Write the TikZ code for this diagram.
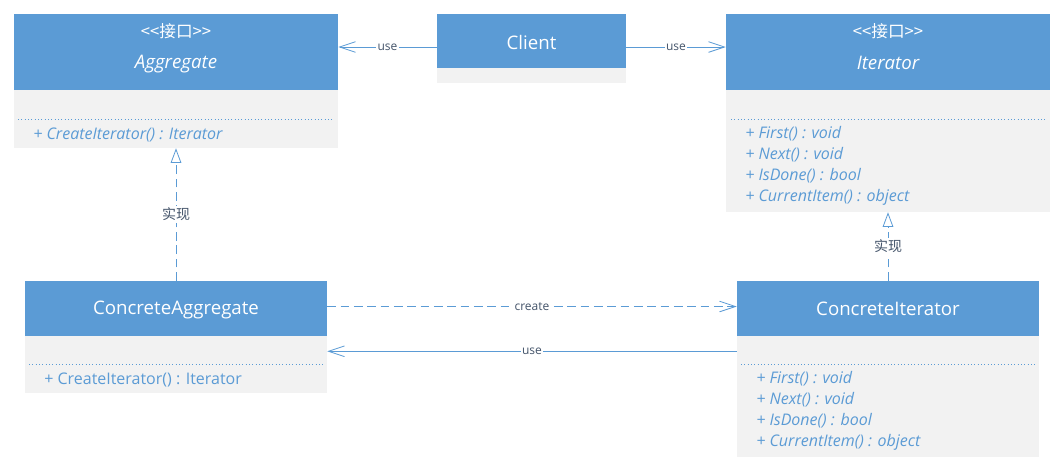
\documentclass[tikz,border=0pt]{standalone}
\usepackage{fontspec}
\setmainfont{Open Sans}
\newfontfamily\cjk{Noto Sans CJK SC}
\usetikzlibrary{arrows.meta}
\definecolor{hdr}{HTML}{5B9BD5}
\definecolor{bodyc}{HTML}{F2F2F2}
\definecolor{lbl}{HTML}{44546A}
\tikzset{
  hdrbox/.style={fill=hdr, draw=none, inner sep=0pt},
  bodybox/.style={fill=bodyc, draw=none, inner sep=0pt},
  hdrtxt/.style={text=white, inner sep=0pt, font=\fontsize{14}{16}\selectfont},
  hdritxt/.style={hdrtxt, font=\fontsize{14}{16}\selectfont\itshape},
  sttxt/.style={text=white, inner sep=0pt, font=\cjk\fontsize{12.5}{14}\selectfont},
  meth/.style={anchor=west, text=hdr, inner sep=0pt, align=left, font=\fontsize{12}{15.75}\selectfont\itshape},
  methup/.style={meth, font=\fontsize{12}{15.75}\selectfont},
  sepline/.style={draw=hdr, dotted, line width=0.5pt},
  conn/.style={draw=hdr, line width=0.75pt},
  dashconn/.style={conn, dash pattern=on 6.5pt off 3.5pt},
  usearrow/.style={-{Straight Barb[length=12pt, width=8pt, line width=0.6pt]}},
  realarrow/.style={-{Triangle[open, length=11pt, width=8pt, fill=white, line width=0.6pt]}},
  lab/.style={fill=white, inner sep=1pt, text=lbl, font=\fontsize{9}{10}\selectfont},
  cjklab/.style={fill=white, inner sep=1.5pt, text=lbl, font=\cjk\fontsize{10.5}{12}\selectfont},
}
\begin{document}
\begin{tikzpicture}[x=0.75pt, y=-0.75pt]
\useasboundingbox[fill=white] (0,0) rectangle (1061,469);

% Aggregate
\node[hdrbox, minimum width=243pt, minimum height=57pt] (aggH) at (176,52) {};
\node[bodybox, minimum width=243pt, minimum height=43.5pt] (aggB) at (176,119) {};
\node[sttxt] (aggS) at (176,31) {<<接口>>};
\node[hdritxt] (aggN) at (176,64) {Aggregate};
\draw[sepline] (18,119) -- (333,119);
\node[meth] (aggM) at (33,134.5) {+ CreateIterator() : Iterator};

% Client
\node[hdrbox, minimum width=141.75pt, minimum height=40.5pt] (cliH) at (531.5,41) {};
\node[bodybox, minimum width=141.75pt, minimum height=11.25pt] (cliB) at (531.5,75.5) {};
\node[hdrtxt] (cliN) at (531.5,42) {Client};

% Iterator
\node[hdrbox, minimum width=243pt, minimum height=57pt] (itH) at (888,52) {};
\node[bodybox, minimum width=243pt, minimum height=91.5pt] (itB) at (888,151) {};
\node[sttxt] (itS) at (888,31) {<<接口>>};
\node[hdritxt] (itN) at (888,63) {Iterator};
\draw[sepline] (731,119) -- (1045,119);
\node[meth] (itM) at (745,165.5) {+ First() : void\\+ Next() : void\\+ IsDone() : bool\\+ CurrentItem() : object};

% ConcreteAggregate
\node[hdrbox, minimum width=226.5pt, minimum height=41.25pt] (caH) at (176,308.5) {};
\node[bodybox, minimum width=226.5pt, minimum height=42.75pt] (caB) at (176,364.5) {};
\node[hdrtxt] (caN) at (176,310) {ConcreteAggregate};
\draw[sepline] (29,364) -- (323,364);
\node[methup] (caM) at (44,379.5) {+ CreateIterator() : Iterator};

% ConcreteIterator
\node[hdrbox, minimum width=226.5pt, minimum height=41.25pt] (ciH) at (888,308.5) {};
\node[bodybox, minimum width=226.5pt, minimum height=90.75pt] (ciB) at (888,396.5) {};
\node[hdrtxt] (ciN) at (888,309) {ConcreteIterator};
\draw[sepline] (741,364) -- (1035,364);
\node[meth] (ciM) at (756,410.5) {+ First() : void\\+ Next() : void\\+ IsDone() : bool\\+ CurrentItem() : object};

% Connectors
\draw[conn, usearrow] ([yshift=-4.5pt]cliH.west) -- ([yshift=-4.5pt]cliH.west -| aggH.east)
  node[lab, midway] {use};
\draw[conn, usearrow] ([yshift=-4.5pt]cliH.east) -- ([yshift=-4.5pt]cliH.east -| itH.west)
  node[lab, midway] {use};
\draw[dashconn, realarrow] (caH.north) -- (aggB.south) node[cjklab, midway] {实现};
\draw[dashconn, realarrow] (ciH.north) -- (itB.south) node[cjklab, midway] {实现};
\draw[dashconn, usearrow] ([yshift=1.5pt]caH.east) -- ([yshift=1.5pt]caH.east -| ciH.west)
  node[lab, midway] {create};
\draw[conn, usearrow] ([yshift=-11.25pt]ciH.south west) -- ([yshift=-11.25pt]ciH.south west -| caB.east)
  node[lab, midway] {use};
\end{tikzpicture}
\end{document}
